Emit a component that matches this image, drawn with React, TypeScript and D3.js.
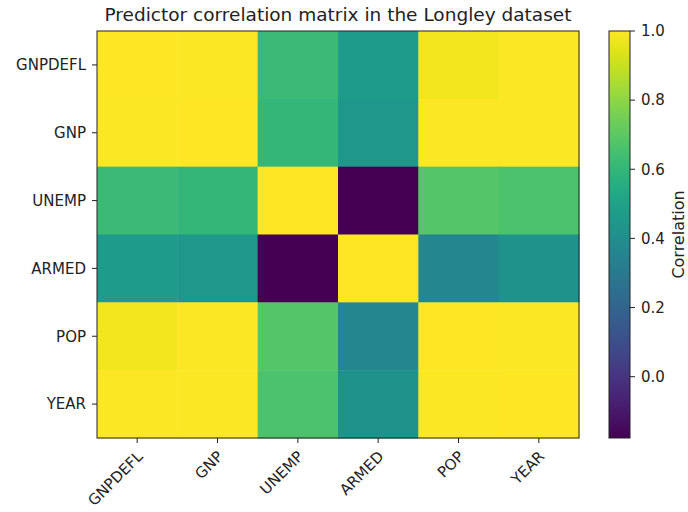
import React, { useEffect, useRef } from 'react';
import * as d3 from 'd3';

const variables = ['GNPDEFL', 'GNP', 'UNEMP', 'ARMED', 'POP', 'YEAR'];
// correlation rows, in the order of variables
const corrRows = [
  [1.0, 0.9916, 0.6206, 0.4647, 0.9792, 0.9911],
  [0.9916, 1.0, 0.6043, 0.4464, 0.9911, 0.9953],
  [0.6206, 0.6043, 1.0, -0.1774, 0.6866, 0.6683],
  [0.4647, 0.4464, -0.1774, 1.0, 0.3644, 0.4172],
  [0.9792, 0.9911, 0.6866, 0.3644, 1.0, 0.994],
  [0.9911, 0.9953, 0.6683, 0.4172, 0.994, 1.0],
];
const colorTicks = [0.0, 0.2, 0.4, 0.6, 0.8, 1.0];

const App = () => {
  const ref = useRef<SVGSVGElement>(null);

  useEffect(() => {
    const svg = d3.select(ref.current);
    svg.selectAll('*').remove();

    const font = 'DejaVu Sans, sans-serif';
    const tickSize = 15;
    const left = 97, right = 579, top = 31, bottom = 438;
    const cbLeft = 609, cbWidth = 21;

    const x = d3.scaleBand().domain(variables).range([left, right]);
    const y = d3.scaleBand().domain(variables).range([top, bottom]);
    const vmin = d3.min(corrRows.flat()) as number;
    const vmax = d3.max(corrRows.flat()) as number;
    const color = d3.scaleSequential(d3.interpolateViridis).domain([vmin, vmax]);

    const cells = corrRows.flatMap((row, i) =>
      row.map((v, j) => ({ r: variables[i], c: variables[j], v }))
    );

    svg.append('g')
      .selectAll('rect')
      .data(cells)
      .join('rect')
        .attr('x', d => x(d.c)!)
        .attr('y', d => y(d.r)!)
        .attr('width', x.bandwidth() + 0.5)
        .attr('height', y.bandwidth() + 0.5)
        .attr('fill', d => color(d.v));

    svg.append('rect')
      .attr('x', left).attr('y', top)
      .attr('width', right - left).attr('height', bottom - top)
      .attr('fill', 'none').attr('stroke', '#222').attr('stroke-width', 1);

    // x axis
    const xAxis = svg.append('g');
    variables.forEach(v => {
      const cx = x(v)! + x.bandwidth() / 2;
      xAxis.append('line')
        .attr('x1', cx).attr('x2', cx)
        .attr('y1', bottom).attr('y2', bottom + 5)
        .attr('stroke', '#222');
      xAxis.append('text')
        .attr('transform', `translate(${cx - 1},${bottom + 12}) rotate(-45)`)
        .attr('text-anchor', 'end')
        .attr('dy', '0.7em')
        .attr('font-family', font)
        .attr('font-size', tickSize)
        .attr('fill', '#222')
        .text(v);
    });

    // y axis
    const yAxis = svg.append('g');
    variables.forEach(v => {
      const cy = y(v)! + y.bandwidth() / 2;
      yAxis.append('line')
        .attr('x1', left - 5).attr('x2', left)
        .attr('y1', cy).attr('y2', cy)
        .attr('stroke', '#222');
      yAxis.append('text')
        .attr('x', left - 11).attr('y', cy)
        .attr('dy', '0.35em')
        .attr('text-anchor', 'end')
        .attr('font-family', font)
        .attr('font-size', tickSize)
        .attr('fill', '#222')
        .text(v);
    });

    // title
    svg.append('text')
      .attr('x', (left + right) / 2).attr('y', 21)
      .attr('text-anchor', 'middle')
      .attr('font-family', font)
      .attr('font-size', 18.5)
      .attr('fill', '#222')
      .text('Predictor correlation matrix in the Longley dataset');

    // colorbar
    const cy = d3.scaleLinear().domain([vmin, vmax]).range([bottom, top]);
    const defs = svg.append('defs');
    const grad = defs.append('linearGradient')
      .attr('id', 'cb-grad')
      .attr('x1', 0).attr('y1', 1).attr('x2', 0).attr('y2', 0);
    d3.range(0, 1.0001, 0.05).forEach(t => {
      grad.append('stop')
        .attr('offset', t)
        .attr('stop-color', d3.interpolateViridis(t));
    });
    svg.append('rect')
      .attr('x', cbLeft).attr('y', top)
      .attr('width', cbWidth).attr('height', bottom - top)
      .attr('fill', 'url(#cb-grad)')
      .attr('stroke', '#222').attr('stroke-width', 1);

    const cbAxis = svg.append('g');
    colorTicks.forEach(t => {
      cbAxis.append('line')
        .attr('x1', cbLeft + cbWidth).attr('x2', cbLeft + cbWidth + 5)
        .attr('y1', cy(t)).attr('y2', cy(t))
        .attr('stroke', '#222');
      cbAxis.append('text')
        .attr('x', cbLeft + cbWidth + 11).attr('y', cy(t))
        .attr('dy', '0.35em')
        .attr('font-family', font)
        .attr('font-size', tickSize)
        .attr('fill', '#222')
        .text(t.toFixed(1));
    });
    svg.append('text')
      .attr('transform', `translate(684,${(top + bottom) / 2}) rotate(-90)`)
      .attr('text-anchor', 'middle')
      .attr('font-family', font)
      .attr('font-size', 16)
      .attr('fill', '#222')
      .text('Correlation');
  }, []);

  return (
    <svg
      ref={ref}
      width="688"
      height="512"
      style={{ position: 'absolute', left: 0, top: 0 }}
    ></svg>
  );
};

export default App;
